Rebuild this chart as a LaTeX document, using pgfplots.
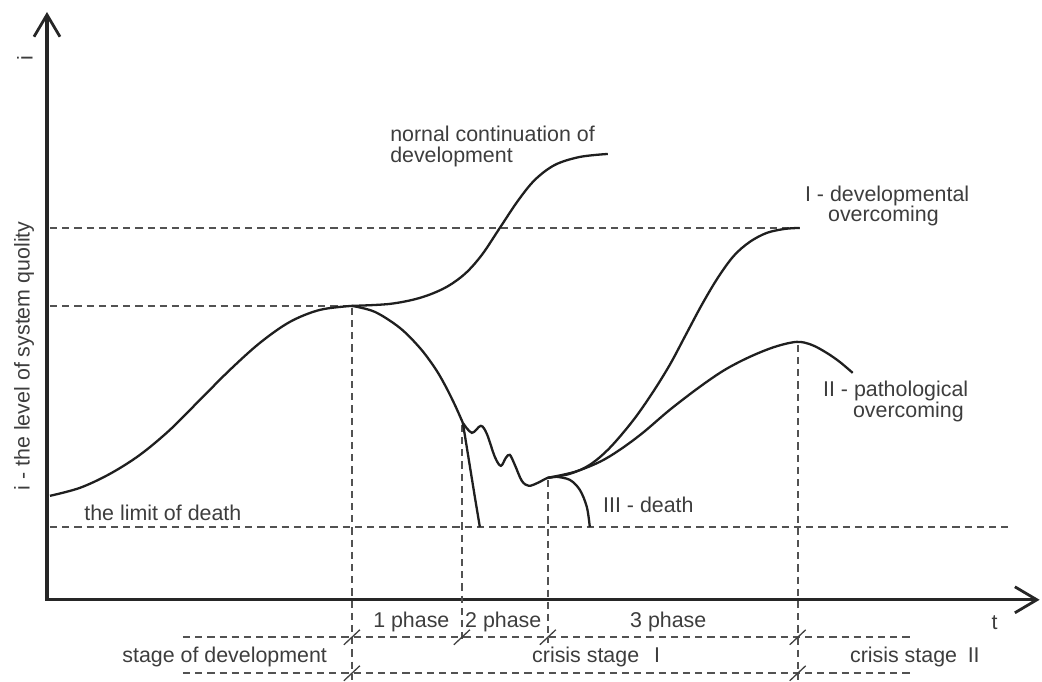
\documentclass[border=0pt]{standalone}
\usepackage{fontspec}
\setmainfont{Liberation Sans}
\usepackage{pgfplots}
\pgfplotsset{compat=1.18}
\usetikzlibrary{arrows.meta}
\tikzset{
  lab/.style={font=\fontsize{10.7}{11.5}\selectfont, text=black!76, inner sep=0pt},
  crv/.style={line width=1.15pt, black!88, smooth, tension=0.55, no marks},
  dsh/.style={line width=0.8pt, black!68, dash pattern=on 3.6pt off 2.5pt, no marks},
  slash/.style={line width=0.65pt, black!75, no marks},
  ax/.style={line width=1.6pt, black!85, no marks, -{Straight Barb[length=11pt, width=13pt, line width=1.4pt]}},
}
\begin{document}
\begin{tikzpicture}
\begin{axis}[hide axis, scale only axis, width=521pt, height=340pt,
  xmin=0, xmax=1042, ymin=0, ymax=680, y dir=reverse, clip=false]
% frame for the page size
\addplot[draw=none, no marks] coordinates {(0,0) (1042,680)};

% axes
\addplot[ax] coordinates {(47,601) (47,12)};
\addplot[ax] coordinates {(46,600) (1040,600)};

% dashed guide lines
\addplot[dsh] coordinates {(50,228) (800,228)};
\addplot[dsh] coordinates {(50,306) (352,306)};
\addplot[dsh] coordinates {(50,527) (1010,527)};
\addplot[dsh] coordinates {(352,308) (352,680)};
\addplot[dsh] coordinates {(462,425) (462,643)};
\addplot[dsh] coordinates {(548,480) (548,643)};
\addplot[dsh] coordinates {(798,345) (798,680)};
\addplot[dsh] coordinates {(183,637) (912,637)};
\addplot[dsh] coordinates {(183,673) (912,673)};

% slashes on the stage lines
\addplot[slash] coordinates {(344,645) (360,630)};
\addplot[slash] coordinates {(454,645) (470,630)};
\addplot[slash] coordinates {(540,645) (556,630)};
\addplot[slash] coordinates {(790,645) (806,630)};
\addplot[slash] coordinates {(344,681) (360,666)};
\addplot[slash] coordinates {(790,681) (806,666)};

% development up to the peak
\addplot[crv] coordinates {(50,496) (80,488) (110,474) (140,455) (170,430)
  (200,400) (230,370) (260,343) (290,322) (320,310) (352,306)};
% normal continuation
\addplot[crv] coordinates {(352,306) (390,304) (420,298) (445,288) (465,274)
  (482,255) (500,228) (518,201) (535,180) (555,165) (580,157) (608,154)};
% decline (1 phase)
\addplot[crv] coordinates {(352,306) (375,312) (400,328) (420,348) (435,368)
  (445,385) (455,405) (463,423)};
% fast death
\addplot[crv] coordinates {(463,423) (469,460) (475,497) (480,527)};
% oscillations (2 phase)
\addplot[crv] coordinates {(463,423) (472,433) (481,426) (487,434) (495,457)
  (501,466) (506,458) (510,455) (515,465) (522,481) (529,486) (538,483)
  (548,478) (557,477)};
% III - death
\addplot[crv] coordinates {(557,477) (570,480) (580,490) (587,507) (590,527)};
% I - developmental overcoming
\addplot[crv] coordinates {(548,478) (570,474) (590,465) (610,448) (633,421)
  (652,394) (670,365) (686,335) (702,305) (718,278) (734,256) (750,242)
  (767,233) (785,229) (800,228)};
% II - pathological overcoming
\addplot[crv] coordinates {(548,478) (575,472) (600,462) (620,450) (643,433)
  (670,410) (700,387) (725,370) (750,357) (775,347) (797,342) (812,345)
  (827,353) (840,362) (853,373)};

% texts
\node[lab, rotate=90] at (axis cs:25,58) {i};
\node[lab, rotate=90] at (axis cs:24,356) {i - the level of system quolity};
\node[lab, anchor=base west] at (axis cs:390,142) {nornal continuation of};
\node[lab, anchor=base west] at (axis cs:390,163) {development};
\node[lab, anchor=base west] at (axis cs:805,202) {I - developmental};
\node[lab, anchor=base west] at (axis cs:828,222) {overcoming};
\node[lab, anchor=base west] at (axis cs:823,397) {II - pathological};
\node[lab, anchor=base west] at (axis cs:853,418) {overcoming};
\node[lab, anchor=base west] at (axis cs:603,513) {III - death};
\node[lab, anchor=base west] at (axis cs:84,521) {the limit of death};
\node[lab, anchor=base] at (axis cs:995,630) {t};
\node[lab, anchor=base west] at (axis cs:373,628) {1 phase};
\node[lab, anchor=base west] at (axis cs:465,628) {2 phase};
\node[lab, anchor=base west] at (axis cs:630,628) {3 phase};
\node[lab, anchor=base west] at (axis cs:122,663) {stage of development};
\node[lab, anchor=base west] at (axis cs:532,663) {crisis stage\hspace{0.7em}I};
\node[lab, anchor=base west] at (axis cs:850,663) {crisis stage\hspace{0.5em}II};
\end{axis}
\end{tikzpicture}
\end{document}
